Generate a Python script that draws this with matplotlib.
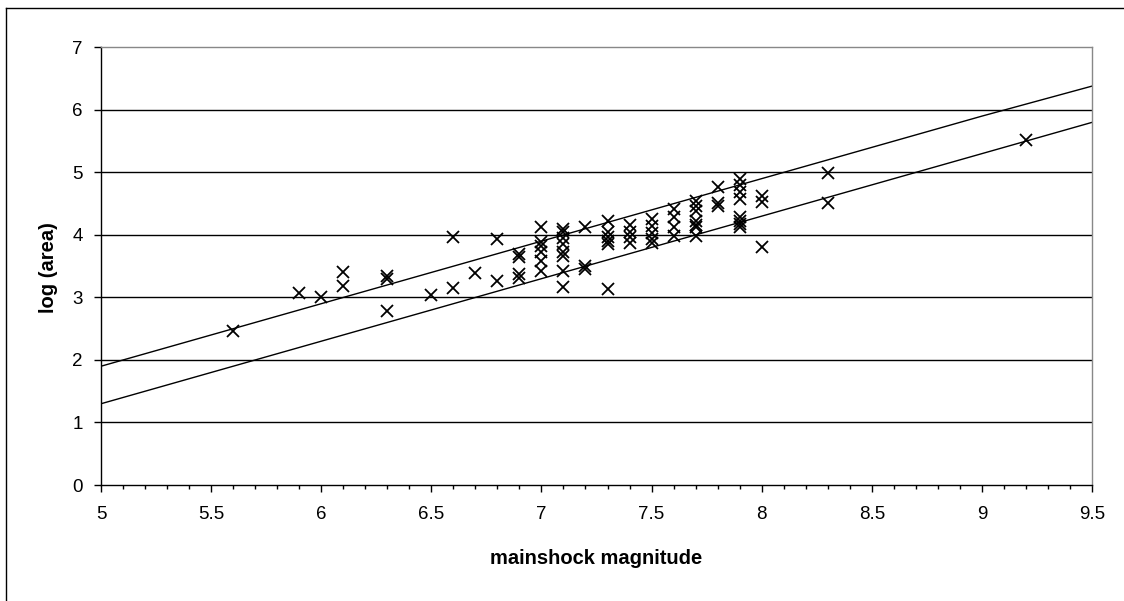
import numpy as np
import matplotlib.pyplot as plt
from matplotlib.ticker import MultipleLocator
from matplotlib.lines import Line2D

plt.rcParams['font.family'] = ['Liberation Sans', 'DejaVu Sans']

# observed events: magnitude -> log(area) values
mag = ([5.6, 5.9, 6.0, 6.1, 6.1, 6.3, 6.3, 6.3, 6.5, 6.6, 6.6, 6.7, 6.8, 6.8]
       + [6.9] * 4 + [7.0] * 6 + [7.1] * 8 + [7.2] * 3 + [7.3] * 6
       + [7.4] * 4 + [7.5] * 5 + [7.6] * 4 + [7.7] * 7 + [7.8] * 3
       + [7.9] * 8 + [8.0] * 3 + [8.3, 8.3, 9.2])
log_area = ([2.47, 3.07, 3.01, 3.41, 3.19, 3.34, 3.30, 2.78, 3.04, 3.96, 3.15, 3.39, 3.93, 3.27]
            + [3.69, 3.64, 3.37, 3.31]
            + [4.12, 3.88, 3.82, 3.72, 3.59, 3.43]
            + [4.10, 4.05, 3.95, 3.85, 3.73, 3.66, 3.43, 3.17]
            + [4.12, 3.51, 3.46]
            + [4.23, 4.04, 3.96, 3.91, 3.86, 3.14]
            + [4.16, 4.04, 3.96, 3.87]
            + [4.25, 4.14, 4.03, 3.94, 3.87]
            + [4.41, 4.28, 4.13, 3.99]
            + [4.54, 4.47, 4.38, 4.22, 4.16, 4.12, 3.99]
            + [4.76, 4.51, 4.47]
            + [4.89, 4.80, 4.68, 4.57, 4.28, 4.22, 4.17, 4.12]
            + [4.63, 4.52, 3.80]
            + [4.99, 4.51, 5.52])

# bounding relations
line_m = [5.0, 5.5, 6.0, 6.5, 7.0, 7.5, 8.0, 8.5, 9.0, 9.5]
upper = [1.90, 2.40, 2.90, 3.40, 3.90, 4.40, 4.90, 5.40, 5.90, 6.38]
lower = [1.30, 1.80, 2.30, 2.80, 3.30, 3.80, 4.30, 4.80, 5.30, 5.80]

fig = plt.figure(figsize=(11.24, 6.01), dpi=100)
ax = fig.add_axes([0.0899, 0.193, 0.8816, 0.7282])

for y in range(1, 7):
    ax.axhline(y, color='black', lw=1.0, zorder=1)

ax.plot(line_m, upper, color='black', lw=1.0, zorder=2)
ax.plot(line_m, lower, color='black', lw=1.0, zorder=2)
ax.plot(mag, log_area, 'x', color='black', ms=8, mew=1.3, zorder=3)

ax.set_xlim(5, 9.5)
ax.set_ylim(0, 7)
ax.xaxis.set_major_locator(MultipleLocator(0.5))
ax.xaxis.set_minor_locator(MultipleLocator(0.1))
ax.yaxis.set_major_locator(MultipleLocator(1))
ax.xaxis.set_major_formatter(plt.FuncFormatter(lambda v, p: f'{v:g}'))
ax.tick_params(axis='both', which='major', direction='out', length=5, width=1,
               labelsize=13.5, colors='black')
ax.tick_params(axis='x', which='minor', direction='out', length=3, width=1)
ax.tick_params(axis='x', pad=10)
ax.tick_params(axis='y', pad=8)

ax.spines['left'].set_color('black')
ax.spines['bottom'].set_color('black')
ax.spines['top'].set_color('#888888')
ax.spines['right'].set_color('#888888')
for s in ax.spines.values():
    s.set_linewidth(1.0)

fig.text(596.5 / 1124, 1 - 558 / 601, 'mainshock magnitude', fontsize=14.5,
         fontweight='bold', ha='center', va='center')
fig.text(48 / 1124, 1 - 268 / 601, 'log (area)', fontsize=14.5,
         fontweight='bold', ha='center', va='center', rotation=90)

# outer chart border (only top and left visible)
fig.add_artist(Line2D([6 / 1124, 6 / 1124], [0, 1 - 8 / 601], transform=fig.transFigure,
                      color='black', lw=1.0))
fig.add_artist(Line2D([6 / 1124, 1], [1 - 8 / 601, 1 - 8 / 601], transform=fig.transFigure,
                      color='black', lw=1.0))

fig.savefig('out.png', dpi=100)
